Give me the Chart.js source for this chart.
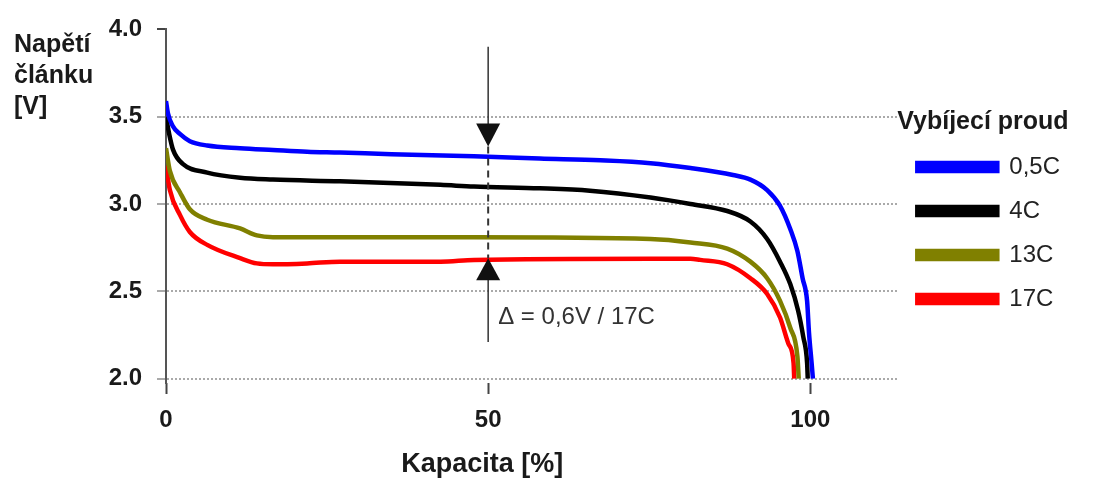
<!DOCTYPE html>
<html>
<head>
<meta charset="utf-8">
<script src="https://cdn.jsdelivr.net/npm/chart.js@4/dist/chart.umd.min.js"></script>
<style>
  html, body { margin: 0; padding: 0; background: #fff; }
  #obal { width: 1103px; height: 483px; position: relative; }
</style>
</head>
<body>
<div id="obal"><canvas id="graf-vybijeni"></canvas></div>
<script>
// hodnoty: kapacita [%] a napeti clanku [V]

const kapacita05 = [0, 0.3, 1.0, 2.2, 3.7, 6.4, 11.5, 16.6, 21.9, 27.0, 35.0, 47.8, 58.0, 67.4, 75.2, 81.4, 88.0, 90.7, 93.3, 95.3, 96.9, 98.0, 98.8, 99.5, 99.8, 100.2, 100.4]
const napeti05 = [3.59, 3.52, 3.45, 3.40, 3.36, 3.335, 3.32, 3.31, 3.30, 3.295, 3.285, 3.273, 3.26, 3.25, 3.234, 3.206, 3.166, 3.14, 3.08, 2.99, 2.856, 2.73, 2.575, 2.445, 2.26, 2.09, 2.0]

const kapacita4 = [0, 0.5, 1.1, 2.6, 6.4, 11.5, 16.6, 27.0, 42.6, 47.8, 58.0, 65.8, 75.2, 81.4, 87.1, 90.7, 93.3, 95.3, 96.9, 98.1, 98.9, 99.5, 99.6]
const napeti4 = [3.50, 3.40, 3.31, 3.23, 3.18, 3.15, 3.14, 3.13, 3.11, 3.10, 3.09, 3.076, 3.037, 3.0, 2.96, 2.90, 2.80, 2.67, 2.54, 2.39, 2.24, 2.09, 2.0]

const kapacita13 = [0, 0.6, 2.2, 3.7, 6.4, 11.5, 14.1, 16.6, 27.0, 47.8, 75.2, 81.4, 87.1, 90.7, 93.3, 95.3, 96.9, 98.0, 98.2]
const napeti13 = [3.32, 3.19, 3.065, 2.97, 2.91, 2.86, 2.82, 2.81, 2.81, 2.81, 2.80, 2.78, 2.745, 2.67, 2.575, 2.445, 2.29, 2.125, 2.0]

const kapacita17 = [0, 0.6, 2.2, 3.7, 6.4, 11.5, 14.1, 16.6, 21.9, 27.0, 42.6, 47.8, 75.2, 81.4, 82.9, 87.1, 90.7, 93.3, 95.3, 96.6, 97.4, 97.5]
const napeti17 = [3.22, 3.08, 2.935, 2.84, 2.766, 2.69, 2.66, 2.655, 2.66, 2.67, 2.67, 2.68, 2.687, 2.687, 2.68, 2.655, 2.575, 2.485, 2.35, 2.20, 2.09, 2.0]

const proudy = ['0,5C', '4C', '13C', '17C']
const barvy = ['#0000ff', '#000000', '#808000', '#ff0000']

const tickyY = [2.0, 2.5, 3.0, 3.5, 4.0]
const tickyX = [0, 50, 100]

const titulekY = ['Napětí', 'článku', '[V]']
const titulekX = 'Kapacita [%]'
const titulekLegendy = 'Vybíjecí proud'

// sipka s popiskem u 50 % kapacity
const anotaceText = 'Δ = 0,6V / 17C'
const anotaceX = 50
const anotaceHorni = 3.9
const anotaceSpicka1 = 3.33
const anotaceSpicka2 = 2.69
const anotaceDolni = 2.21
const anotaceTextY = 2.35

const pismo = '"Liberation Sans", Arial, sans-serif'
Chart.defaults.font.family = pismo

function body(kapacita, napeti) {
  return kapacita.map((k, i) => ({ x: k, y: napeti[i] }))
}

const serie = [
  body(kapacita05, napeti05),
  body(kapacita4, napeti4),
  body(kapacita13, napeti13),
  body(kapacita17, napeti17)
]

const popisky = {
  id: 'popisky',
  afterDatasetsDraw(chart) {
    const { ctx, scales: { x, y } } = chart
    const ax = x.getPixelForValue(anotaceX)
    const yHorni = y.getPixelForValue(anotaceHorni)
    const ySp1 = y.getPixelForValue(anotaceSpicka1)
    const ySp2 = y.getPixelForValue(anotaceSpicka2)
    const yDolni = y.getPixelForValue(anotaceDolni)

    ctx.save()
    ctx.strokeStyle = '#333'
    ctx.fillStyle = '#111'
    ctx.lineWidth = 1.5

    ctx.beginPath()
    ctx.moveTo(ax, yHorni)
    ctx.lineTo(ax, ySp1 - 22)
    ctx.moveTo(ax, ySp2 + 21)
    ctx.lineTo(ax, yDolni)
    ctx.stroke()

    ctx.lineWidth = 2
    ctx.setLineDash([7, 5])
    ctx.beginPath()
    ctx.moveTo(ax, ySp1)
    ctx.lineTo(ax, ySp2)
    ctx.stroke()
    ctx.setLineDash([])

    ctx.beginPath()
    ctx.moveTo(ax - 12, ySp1 - 23)
    ctx.lineTo(ax + 12, ySp1 - 23)
    ctx.lineTo(ax, ySp1)
    ctx.closePath()
    ctx.fill()

    ctx.beginPath()
    ctx.moveTo(ax - 12, ySp2 + 22)
    ctx.lineTo(ax + 12, ySp2 + 22)
    ctx.lineTo(ax, ySp2)
    ctx.closePath()
    ctx.fill()

    ctx.fillStyle = '#333'
    ctx.font = '24px ' + pismo
    ctx.textAlign = 'left'
    ctx.textBaseline = 'middle'
    ctx.fillText(anotaceText, ax + 10, y.getPixelForValue(anotaceTextY))

    // popisky os
    ctx.fillStyle = '#1a1a1a'
    ctx.font = 'bold 25px ' + pismo
    titulekY.forEach((t, i) => ctx.fillText(t, 14, 45 + i * 31))
    ctx.textAlign = 'center'
    ctx.font = 'bold 27px ' + pismo
    ctx.fillText(titulekX, (x.getPixelForValue(0) + x.getPixelForValue(100)) / 2 - 6, 465)
    ctx.restore()
  }
}

new Chart(document.getElementById('graf-vybijeni'), {
  type: 'line',
  data: {
    datasets: serie.map((data, i) => ({
      label: proudy[i],
      data,
      borderColor: barvy[i],
      backgroundColor: barvy[i],
      borderWidth: 4.5,
      pointRadius: 0,
      cubicInterpolationMode: 'monotone',
      fill: false
    }))
  },
  options: {
    responsive: true,
    maintainAspectRatio: false,
    animation: false,
    layout: { padding: { top: 24, right: 33, bottom: 0, left: 0 } },
    plugins: {
      tooltip: { enabled: false },
      legend: {
        position: 'right',
        align: 'start',
        title: {
          display: true,
          text: titulekLegendy,
          position: 'start',
          color: '#1a1a1a',
          font: { size: 25, weight: 'bold' },
          padding: { top: 86, bottom: -5 }
        },
        labels: {
          boxWidth: 80,
          boxHeight: 8,
          padding: 20,
          color: '#222',
          font: { size: 24 }
        }
      }
    },
    scales: {
      x: {
        type: 'linear',
        min: 0,
        max: 113.5,
        afterBuildTicks: s => { s.ticks = tickyX.map(v => ({ value: v })) },
        afterFit: s => { s.height = 100 },
        ticks: { color: '#1a1a1a', font: { size: 24, weight: 'bold' }, padding: 12, maxRotation: 0 },
        grid: { drawOnChartArea: false, tickLength: 11, tickColor: '#444', tickWidth: 2 },
        border: { display: false }
      },
      y: {
        min: 1.975,
        max: 4.0,
        afterBuildTicks: s => { s.ticks = tickyY.map(v => ({ value: v })) },
        afterFit: s => { s.width = 166 },
        ticks: {
          color: '#1a1a1a',
          font: { size: 24, weight: 'bold' },
          padding: 15,
          callback: v => v.toFixed(1)
        },
        grid: {
          color: c => c.tick && c.tick.value === 4 ? 'rgba(0,0,0,0)' : '#aaaaaa',
          tickColor: c => c.tick && c.tick.value === 4 ? '#444' : '#aaaaaa',
          lineWidth: 2,
          tickLength: 9,
          tickWidth: 2
        },
        border: { display: true, color: '#555', width: 2, dash: [2, 2] }
      }
    }
  },
  plugins: [popisky]
})
</script>
</body>
</html>
